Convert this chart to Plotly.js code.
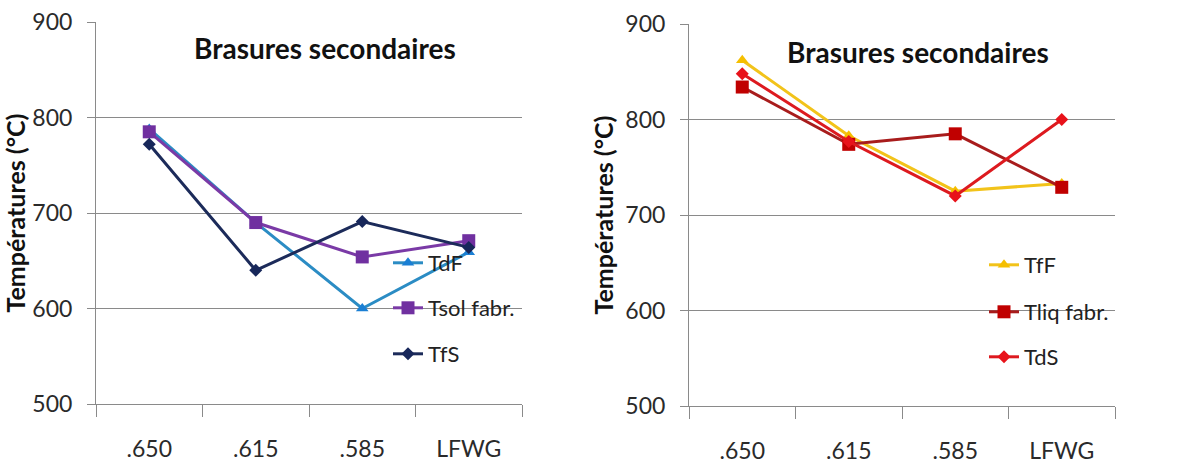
<!DOCTYPE html>
<html>
<head>
<meta charset="utf-8">
<script src="https://cdn.plot.ly/plotly-3.0.1.min.js"></script>
<style>html,body{margin:0;padding:0;background:#fff;}#chart{width:1186px;height:463px;}</style>
</head>
<body>
<div id="chart"></div>
<script>
const categories = [".650", ".615", ".585", "LFWG"];
const yTicks = [500, 600, 700, 800, 900];
// Left chart
const tdF = [788, 690, 600, 659];
const tsolFabr = [785, 690, 654, 671];
const tfS = [772, 640, 691, 664];
// Right chart
const tfF = [862, 783, 725, 733];
const tliqFabr = [834, 774, 785, 729];
const tdS = [848, 777, 720, 800];

const chartTitle = "Brasures secondaires";
const yTitle = "Températures (°C)";

const W = 1186, H = 463;
const px = v => v / W;
const py = v => (H - v) / H;

const FONT = "Lato, 'Open Sans', sans-serif";

function tr(name, y, xa, ya, lg, lineColor, markerColor, symbol, msize) {
  return {
    type: "scatter", mode: "lines+markers", name: name,
    x: categories, y: y, xaxis: xa, yaxis: ya, legend: lg,
    line: {color: lineColor, width: 3},
    marker: {color: markerColor, symbol: symbol, size: msize, line: {width: 0}},
    cliponaxis: false
  };
}

const data = [
  tr("TdF", tdF, "x", "y", "legend", "#2b8cc4", "#1a7fd4", "triangle-up", 11),
  tr("Tsol fabr.", tsolFabr, "x", "y", "legend2", "#7a3aa6", "#7030a0", "square", 13),
  tr("TfS", tfS, "x", "y", "legend3", "#1c2b5a", "#17275a", "diamond", 10),
  tr("TfF", tfF, "x2", "y2", "legend4", "#f2c31a", "#f5bf00", "triangle-up", 11),
  tr("Tliq fabr.", tliqFabr, "x2", "y2", "legend5", "#a81c1c", "#c00000", "square", 13),
  tr("TdS", tdS, "x2", "y2", "legend6", "#dd1a1f", "#e8121a", "diamond", 10)
];

const xax = (domain) => ({
  domain: domain, type: "category", range: [-0.5, 3.5],
  tickson: "boundaries", ticks: "outside", ticklen: 12, tickcolor: "#8a8a8a", tickwidth: 1,
  showline: true, linecolor: "#8a8a8a", linewidth: 1, showgrid: false, zeroline: false,
  tickfont: {family: FONT, size: 23, color: "#2a2a2a"}, ticklabelstandoff: 24, fixedrange: true
});
const yax = (domain, anchor) => ({
  domain: domain, anchor: anchor, range: [500, 900], tickvals: yTicks,
  ticks: "outside", ticklen: 8, tickcolor: "#8a8a8a",
  showline: true, linecolor: "#8a8a8a", linewidth: 1,
  showgrid: true, gridcolor: "#8a8a8a", gridwidth: 1, zeroline: false,
  tickfont: {family: FONT, size: 23, color: "#2a2a2a"}, ticklabelstandoff: 10,
  title: {text: yTitle, font: {family: FONT, size: 25, color: "#111", weight: "bold"}, standoff: 4},
  fixedrange: true
});

const legendBase = (x, y) => ({
  x: px(x), y: py(y), xanchor: "left", yanchor: "middle",
  bgcolor: "rgba(0,0,0,0)", borderwidth: 0,
  font: {family: FONT, size: 22, color: "#222"}
});

const layout = {
  width: W, height: H,
  margin: {l: 0, r: 0, t: 0, b: 0},
  paper_bgcolor: "#fff", plot_bgcolor: "#fff",
  showlegend: true,
  xaxis: xax([px(96), px(522)]),
  yaxis: yax([py(404), py(22)], "x"),
  xaxis2: Object.assign(xax([px(689), px(1115)]), {anchor: "y2"}),
  yaxis2: yax([py(406), py(24)], "x2"),
  legend: legendBase(388, 263),
  legend2: legendBase(388, 308),
  legend3: legendBase(388, 354),
  legend4: legendBase(984, 265),
  legend5: legendBase(984, 312),
  legend6: legendBase(984, 357),
  annotations: [
    {text: chartTitle, xref: "paper", yref: "paper", x: px(325), y: py(48), xanchor: "center", yanchor: "middle",
     showarrow: false, font: {family: FONT, size: 28, color: "#111", weight: "bold"}},
    {text: chartTitle, xref: "paper", yref: "paper", x: px(918), y: py(52), xanchor: "center", yanchor: "middle",
     showarrow: false, font: {family: FONT, size: 28, color: "#111", weight: "bold"}}
  ]
};

Plotly.newPlot("chart", data, layout, {displayModeBar: false, staticPlot: true});
</script>
</body>
</html>
